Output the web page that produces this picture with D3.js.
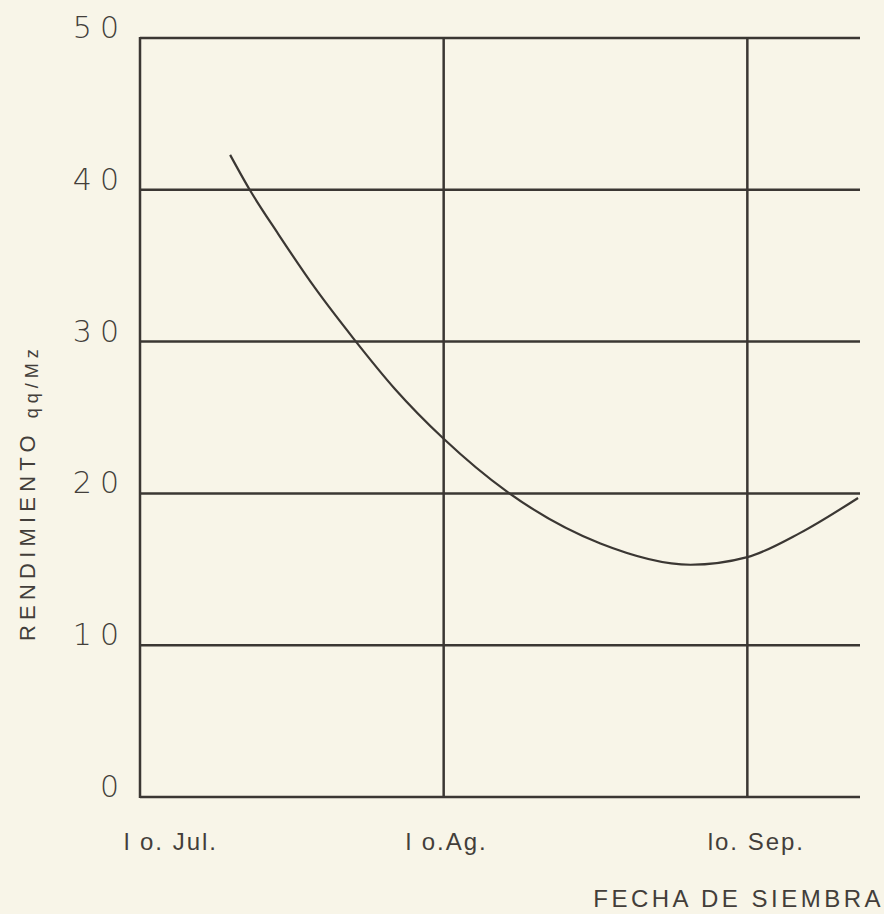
<!DOCTYPE html>
<html lang="es">
<head>
<meta charset="UTF-8">
<title>Rendimiento vs fecha de siembra</title>
<script src="https://cdn.jsdelivr.net/npm/d3@7"></script>
<style>
  body { margin: 0; background: #f8f5e8; }
</style>
</head>
<body>
<script>
    // dias desde el 1o. de julio -> rendimiento qq/Mz
    var dias = [9.2, 11.2, 14.1, 17.9, 21.8, 26.0, 31, 37.5, 47, 56.2, 62, 67.4, 73.3];
    var rendimiento = [42.3, 40, 37.1, 33.5, 30.2, 26.9, 23.6, 20.1, 16.7, 15.3, 15.8, 17.4, 19.7];

    var yTicks = [0, 10, 20, 30, 40, 50];
    var fechas = [0, 31, 62];
    var fechaLabels = ["l o. Jul.", "l o.Ag.", "lo. Sep."];
    var fechaDx = [31, 3, 9];

    var width = 884, height = 914;
    var tinta = "#3b3733";
    var letra = "#433e3a";

    var svg = d3.select("body").append("svg")
        .attr("width", width)
        .attr("height", height);

    svg.append("rect")
        .attr("width", width).attr("height", height)
        .attr("fill", "#f8f5e8");

    var x = d3.scaleLinear().domain([0, 73.5]).range([140, 860]);
    var y = d3.scaleLinear().domain([0, 50]).range([797, 38]);

    // rejilla horizontal
    svg.selectAll("line.h")
        .data(yTicks)
        .enter().append("line")
        .attr("class", "h")
        .attr("x1", x(0)).attr("x2", x(73.5))
        .attr("y1", d => y(d)).attr("y2", d => y(d))
        .attr("stroke", tinta).attr("stroke-width", 2.5);

    // lineas verticales (fechas)
    svg.selectAll("line.v")
        .data(fechas)
        .enter().append("line")
        .attr("class", "v")
        .attr("x1", d => x(d)).attr("x2", d => x(d))
        .attr("y1", y(50) - 1).attr("y2", y(0) + 1)
        .attr("stroke", tinta).attr("stroke-width", 2.5);

    // eje y, solo los numeros
    var ejeY = svg.append("g")
        .attr("transform", "translate(" + x(0) + ",0)")
        .call(d3.axisLeft(y).tickValues(yTicks).tickSize(0).tickPadding(13));
    ejeY.select(".domain").remove();
    ejeY.selectAll("text")
        .attr("dy", "-0.02em")
        .attr("font-family", "DejaVu Sans")
        .attr("font-weight", 300)
        .attr("font-size", 30)
        .attr("letter-spacing", 8)
        .attr("fill", letra);

    // curva
    var linea = d3.line()
        .x((d, i) => x(dias[i]))
        .y(d => y(d))
        .curve(d3.curveMonotoneX);

    svg.append("path")
        .attr("d", linea(rendimiento))
        .attr("fill", "none")
        .attr("stroke", tinta)
        .attr("stroke-width", 2.2);

    // etiquetas de fecha
    svg.selectAll("text.fecha")
        .data(fechaLabels)
        .enter().append("text")
        .attr("class", "fecha")
        .attr("x", (d, i) => x(fechas[i]) + fechaDx[i])
        .attr("y", 850)
        .attr("text-anchor", "middle")
        .attr("font-family", "Liberation Sans")
        .attr("font-size", 24)
        .attr("letter-spacing", 2)
        .attr("fill", letra)
        .text(d => d);

    svg.append("text")
        .attr("x", 884)
        .attr("y", 907)
        .attr("text-anchor", "end")
        .attr("font-family", "Liberation Sans")
        .attr("font-size", 24)
        .attr("letter-spacing", 3.5)
        .attr("fill", letra)
        .text("FECHA DE SIEMBRA");

    // titulo eje y
    var ty = svg.append("text")
        .attr("transform", "translate(35,641) rotate(-90)")
        .attr("font-family", "Liberation Sans")
        .attr("fill", letra);
    ty.append("tspan")
        .attr("font-size", 22)
        .attr("letter-spacing", 5.2)
        .text("RENDIMIENTO");
    ty.append("tspan")
        .attr("dx", 12)
        .attr("dy", 3)
        .attr("font-size", 18)
        .attr("letter-spacing", 5)
        .text("qq/Mz");
</script>
</body>
</html>
